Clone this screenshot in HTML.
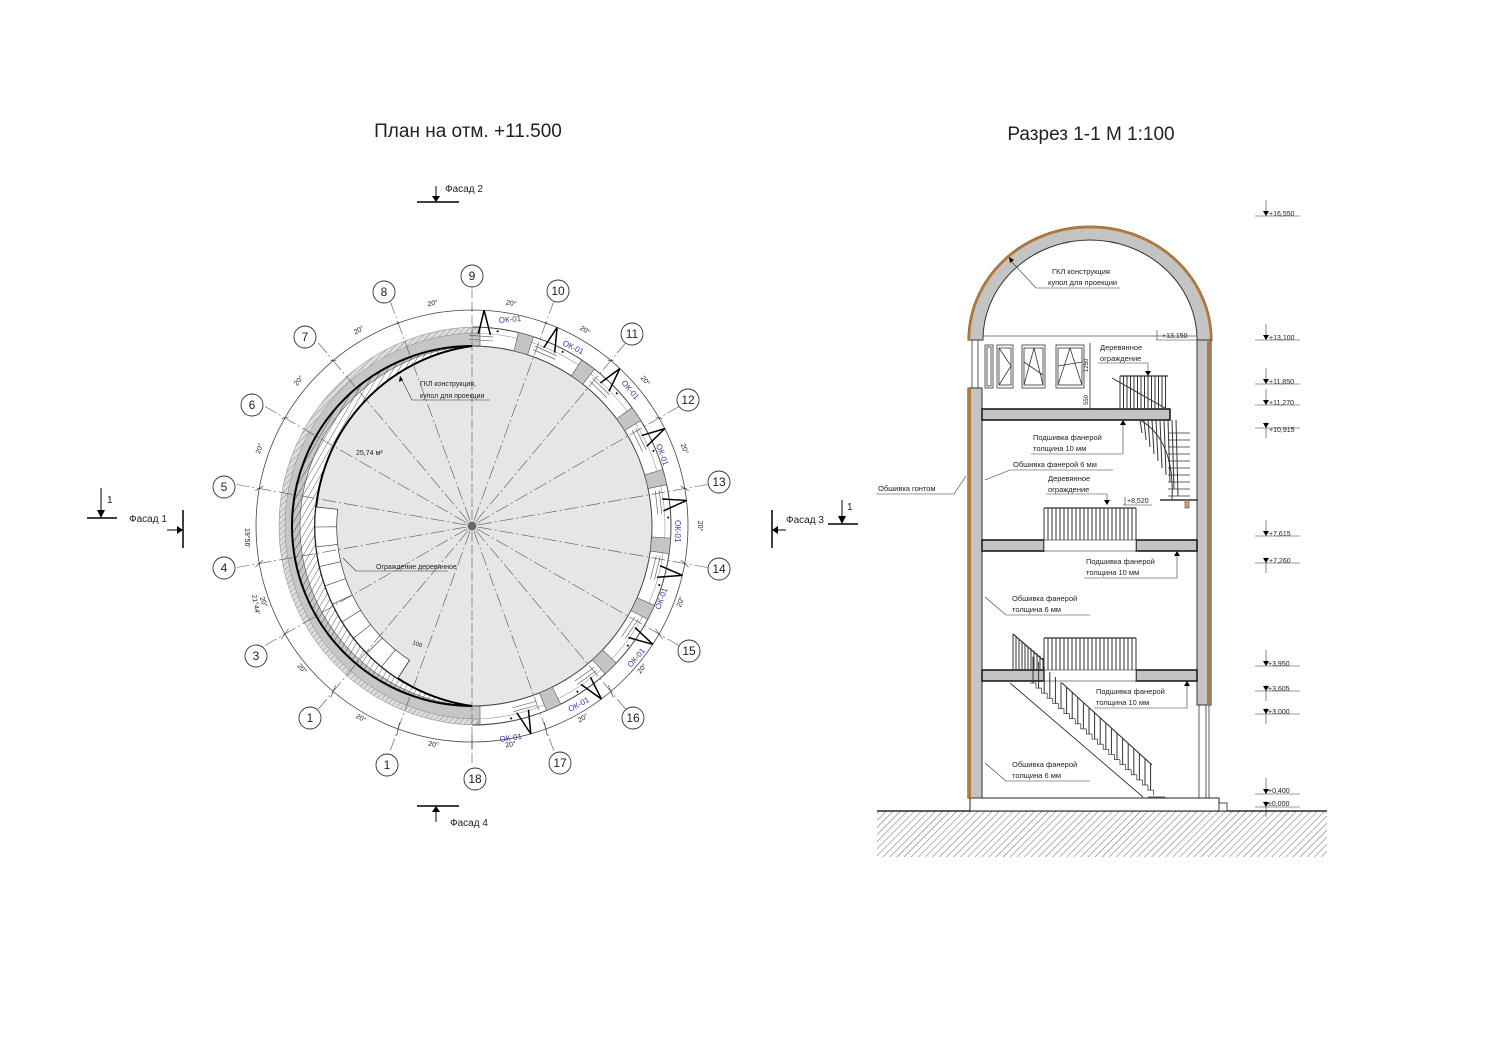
<!DOCTYPE html>
<html><head><meta charset="utf-8"><style>
html,body{margin:0;padding:0;background:#fff}
svg{display:block}
text{font-family:"Liberation Sans",Arial,sans-serif;fill:#222}
</style></head><body>
<svg id="s" width="1500" height="1061" viewBox="0 0 1500 1061" xmlns="http://www.w3.org/2000/svg">
<defs>
<pattern id="h1" width="5" height="5" patternUnits="userSpaceOnUse" patternTransform="rotate(30)"><line x1="0" y1="0" x2="0" y2="5" stroke="#333" stroke-width="0.8"/></pattern>
<pattern id="h2" width="4" height="4" patternUnits="userSpaceOnUse" patternTransform="rotate(45)"><rect width="4" height="4" fill="#ddd"/><line x1="0" y1="0" x2="0" y2="4" stroke="#777" stroke-width="0.8"/></pattern>
<pattern id="gr" width="5" height="5" patternUnits="userSpaceOnUse" patternTransform="rotate(45)"><line x1="0" y1="0" x2="0" y2="5" stroke="#444" stroke-width="0.8"/></pattern>
</defs>

<text x="468" y="137" font-size="19" text-anchor="middle">План на отм. +11.500</text>
<text x="1091" y="140" font-size="19" text-anchor="middle">Разрез 1-1 М 1:100</text>

<g id="plan">
<circle cx="472" cy="526" r="216" fill="none" stroke="#444" stroke-width="0.8"/>
<path d="M480,327 A199,199 0 0 0 480,725 L480,706 A180,180 0 0 1 480,346 Z" fill="#c6c6c6" stroke="#555" stroke-width="0.6"/>
<path d="M478,327 A199,199 0 0 0 478,725 L478,719 A193,193 0 0 1 478,333 Z" fill="url(#h2)" stroke="#888" stroke-width="0.5"/>
<path d="M472,346 A180,180 0 0 1 472,706 A181.7,181.7 0 0 1 472,346 Z" fill="#e6e6e6"/>
<path d="M472,346 A180,180 0 0 0 472,706 A181.7,181.7 0 0 1 472,346 Z" fill="url(#h1)" stroke="#000" stroke-width="2"/>
<g id="stair"></g>
<path d="M472,327 A199,199 0 0 1 472,725" fill="none" stroke="#444" stroke-width="1"/>
<path d="M472,346 A180,180 0 0 1 472,706" fill="none" stroke="#444" stroke-width="1"/>
<path d="M472,333 A193,193 0 0 1 472,719" fill="none" stroke="#999" stroke-width="0.6"/>
<g id="radial"></g>
<g id="piers"></g>
<g id="wins"></g>
<circle cx="472" cy="526" r="4" fill="#666"/>

<g fill="#fff" stroke="#333" stroke-width="0.9">
<circle cx="472" cy="276" r="11"/><circle cx="558" cy="291" r="11"/><circle cx="632" cy="334" r="11"/><circle cx="688" cy="400" r="11"/><circle cx="719" cy="482" r="11"/><circle cx="719" cy="569" r="11"/><circle cx="689" cy="651" r="11"/><circle cx="633" cy="718" r="11"/><circle cx="560" cy="763" r="11"/><circle cx="475" cy="779" r="11"/><circle cx="387" cy="765" r="11"/><circle cx="310" cy="718" r="11"/><circle cx="256" cy="656" r="11"/><circle cx="224" cy="568" r="11"/><circle cx="224" cy="487" r="11"/><circle cx="252" cy="405" r="11"/><circle cx="305" cy="337" r="11"/><circle cx="384" cy="292" r="11"/>
</g>
<g font-size="12" text-anchor="middle">
<text x="472" y="280">9</text><text x="558" y="295">10</text><text x="632" y="338">11</text><text x="688" y="404">12</text><text x="719" y="486">13</text><text x="719" y="573">14</text><text x="689" y="655">15</text><text x="633" y="722">16</text><text x="560" y="767">17</text><text x="475" y="783">18</text><text x="387" y="769">1</text><text x="310" y="722">1</text><text x="256" y="660">3</text><text x="224" y="572">4</text><text x="224" y="491">5</text><text x="252" y="409">6</text><text x="305" y="341">7</text><text x="384" y="296">8</text>
</g>
<g id="deg" font-size="7"></g>
<text font-size="7" transform="translate(245,528) rotate(90)">19°56'</text>
<text font-size="7" transform="translate(252,595) rotate(80)">21°44'</text>

<text x="356" y="455" font-size="7">25,74 м²</text>
<text x="420" y="386" font-size="7">ГКЛ конструкция,</text>
<text x="420" y="398" font-size="7">купол  для проекции</text>
<path d="M490,400 L412,400 L405,386 L400,376" fill="none" stroke="#333" stroke-width="0.6"/>
<path d="M400,376 l-1,6 l4,-2 z" fill="#000"/>
<text x="376" y="569" font-size="7">Ограждение деревянное</text>
<path d="M448,571 L356,571 L343,558" fill="none" stroke="#333" stroke-width="0.6"/>
<text font-size="6" transform="translate(412,644) rotate(20)">100</text>

<line x1="417" y1="202" x2="459" y2="202" stroke="#000" stroke-width="1.5"/>
<line x1="436" y1="186" x2="436" y2="200" stroke="#000"/><path d="M432,196 L440,196 L436,202 Z"/>
<text x="445" y="192" font-size="10">Фасад 2</text>
<line x1="417" y1="806" x2="459" y2="806" stroke="#000" stroke-width="1.5"/>
<line x1="436" y1="808" x2="436" y2="822" stroke="#000"/><path d="M432,812 L440,812 L436,806 Z"/>
<text x="450" y="826" font-size="10">Фасад 4</text>
<line x1="87" y1="518" x2="117" y2="518" stroke="#000" stroke-width="1.5"/>
<line x1="101" y1="488" x2="101" y2="512" stroke="#000"/><path d="M97,510 L105,510 L101,518 Z"/>
<text x="107" y="503" font-size="10">1</text>
<text x="129" y="522" font-size="10">Фасад 1</text>
<line x1="183" y1="510" x2="183" y2="548" stroke="#000" stroke-width="1.5"/>
<line x1="167" y1="530" x2="178" y2="530" stroke="#000"/><path d="M177,526 L177,534 L183,530 Z"/>
<line x1="772" y1="510" x2="772" y2="548" stroke="#000" stroke-width="1.5"/>
<line x1="774" y1="530" x2="786" y2="530" stroke="#000"/><path d="M778,526 L778,534 L772,530 Z"/>
<text x="786" y="523" font-size="10">Фасад 3</text>
<line x1="828" y1="524" x2="858" y2="524" stroke="#000" stroke-width="1.5"/>
<line x1="842" y1="500" x2="842" y2="518" stroke="#000"/><path d="M838,516 L846,516 L842,524 Z"/>
<text x="847" y="510" font-size="10">1</text>
</g>

<g id="sec">
<rect x="877" y="811" width="450" height="46" fill="url(#gr)"/>
<line x1="877" y1="811" x2="1327" y2="811" stroke="#000" stroke-width="1.2"/>
<rect x="970" y="798" width="249" height="13" fill="#fff" stroke="#222" stroke-width="1"/>
<rect x="1219" y="803" width="8" height="8" fill="#fff" stroke="#222" stroke-width="0.8"/>
<path d="M968,340 A122,114 0 0 1 1212,340 L1197,340 A107,100 0 0 0 983,340 Z" fill="#c4c4c4" stroke="#333" stroke-width="1"/>
<path d="M969,340 A121,113 0 0 1 1211,340" fill="none" stroke="#b57a3a" stroke-width="2.5"/>
<rect x="968" y="388" width="14" height="410" fill="#c4c4c4" stroke="#333" stroke-width="1"/>
<rect x="968" y="388" width="3" height="410" fill="#b57a3a"/>
<line x1="972" y1="340" x2="972" y2="388" stroke="#333" stroke-width="0.8"/>
<line x1="978" y1="340" x2="978" y2="388" stroke="#333" stroke-width="0.8"/>
<rect x="1197" y="340" width="14" height="365" fill="#c4c4c4" stroke="#333" stroke-width="1"/>
<rect x="1207" y="340" width="3" height="365" fill="#b57a3a"/>
<line x1="1199" y1="705" x2="1199" y2="798" stroke="#333" stroke-width="0.8"/>
<line x1="1206" y1="705" x2="1206" y2="798" stroke="#333" stroke-width="0.8"/>
<line x1="1209" y1="705" x2="1209" y2="798" stroke="#333" stroke-width="0.8"/>
<line x1="983" y1="336" x2="1197" y2="336" stroke="#555" stroke-width="0.8"/>
<rect x="982" y="409" width="188" height="11" fill="#c4c4c4" stroke="#111" stroke-width="1.5"/>
<rect x="982" y="540" width="62" height="11" fill="#c4c4c4" stroke="#111" stroke-width="1.5"/>
<rect x="1136" y="540" width="61" height="11" fill="#c4c4c4" stroke="#111" stroke-width="1.5"/>
<rect x="1044" y="540" width="92" height="11" fill="#fff" stroke="#333" stroke-width="0.6"/>
<rect x="982" y="670" width="62" height="11" fill="#c4c4c4" stroke="#111" stroke-width="1.5"/>
<rect x="1136" y="670" width="61" height="11" fill="#c4c4c4" stroke="#111" stroke-width="1.5"/>
<rect x="1044" y="670" width="92" height="11" fill="#fff" stroke="#333" stroke-width="0.6"/>
<g fill="none" stroke="#333" stroke-width="0.8">
<rect x="985" y="345" width="8" height="43"/><rect x="987" y="347" width="4" height="39"/>
<rect x="997" y="345" width="16" height="43"/><rect x="999" y="348" width="12" height="37"/><path d="M999,348 L1011,366 L999,385"/>
<rect x="1022" y="345" width="23" height="43"/><rect x="1024" y="348" width="19" height="37"/><path d="M1024,385 L1034,348 L1043,385 M1024,362 L1043,375"/>
<rect x="1056" y="345" width="28" height="43"/><rect x="1058" y="348" width="24" height="37"/><path d="M1058,385 L1070,348 L1082,385 M1058,366 L1082,362"/>
<line x1="1090" y1="343" x2="1090" y2="410"/>
</g>
<text font-size="6" transform="translate(1088,372) rotate(-90)">1250</text>
<text font-size="6" transform="translate(1088,405) rotate(-90)">550</text>
<g id="rails"></g>

<g font-size="7.5">
<text x="1052" y="274">ГКЛ конструкция</text>
<text x="1048" y="285">купол для проекции</text>
<path d="M1120,288 L1036,288 L1010,260" fill="none" stroke="#333" stroke-width="0.6"/><path d="M1009,257 l1,6 l4,-3z"/>
<text x="1162" y="338" font-size="7">+13,150</text>
<path d="M1156,340 L1197,340 M1157,330 L1157,340" stroke="#333" stroke-width="0.6"/>
<text x="1100" y="350">Деревянное</text>
<text x="1100" y="361">ограждение</text>
<path d="M1098,363 L1148,363 L1148,375" fill="none" stroke="#333" stroke-width="0.6"/><path d="M1145,371 L1151,371 L1148,376z"/>
<text x="1033" y="440">Подшивка фанерой</text>
<text x="1033" y="451">толщина 10 мм</text>
<path d="M1031,454 L1123,454 L1123,421" fill="none" stroke="#333" stroke-width="0.6"/><path d="M1120,425 L1126,425 L1123,420z"/>
<text x="1013" y="467">Обшивка фанерой 6 мм</text>
<path d="M1113,470 L1010,470 L985,480" fill="none" stroke="#333" stroke-width="0.6"/>
<text x="878" y="491">Обшивка гонтом</text>
<path d="M876,494 L954,494 L966,476" fill="none" stroke="#333" stroke-width="0.6"/>
<text x="1048" y="481">Деревянное</text>
<text x="1048" y="492">ограждение</text>
<path d="M1046,494 L1107,494 L1107,503" fill="none" stroke="#333" stroke-width="0.6"/><path d="M1104,500 L1110,500 L1107,505z"/>
<text x="1127" y="503" font-size="7">+8,520</text>
<path d="M1123,505 L1152,505 M1125,497 L1125,505" stroke="#333" stroke-width="0.6"/>
<text x="1086" y="564">Подшивка фанерой</text>
<text x="1086" y="575">толщина 10 мм</text>
<path d="M1084,578 L1177,578 L1177,552" fill="none" stroke="#333" stroke-width="0.6"/><path d="M1174,556 L1180,556 L1177,551z"/>
<text x="1012" y="601">Обшивка фанерой</text>
<text x="1012" y="612">толщина 6 мм</text>
<path d="M1090,615 L1006,615 L985,597" fill="none" stroke="#333" stroke-width="0.6"/>
<text x="1096" y="694">Подшивка фанерой</text>
<text x="1096" y="705">толщина 10 мм</text>
<path d="M1094,708 L1187,708 L1187,682" fill="none" stroke="#333" stroke-width="0.6"/><path d="M1184,686 L1190,686 L1187,681z"/>
<text x="1012" y="767">Обшивка фанерой</text>
<text x="1012" y="778">толщина 6 мм</text>
<path d="M1090,781 L1006,781 L985,763" fill="none" stroke="#333" stroke-width="0.6"/>
</g>
<g font-size="7">
<text x="1269" y="216">+16,550</text><text x="1269" y="340">+13,100</text><text x="1269" y="384">+11,850</text><text x="1269" y="405">+11,270</text><text x="1269" y="432">+10,915</text><text x="1269" y="536">+7,615</text><text x="1269" y="563">+7,260</text><text x="1268" y="666">+3,950</text><text x="1268" y="691">+3,605</text><text x="1268" y="714">+3,000</text><text x="1268" y="793">+0,400</text><text x="1268" y="806">±0,000</text>
</g>
<g id="elev"></g>
</g>

<script>
var NS="http://www.w3.org/2000/svg";
function el(p,t,a){var e=document.createElementNS(NS,t);for(var k in a)e.setAttribute(k,a[k]);document.getElementById(p).appendChild(e);return e;}
var cx=472,cy=526,R=Math.PI/180;
var ang=[90,70,50,30,10,-10,-30,-50,-70,-90,-110,-130,-150,-170,170,150,130,110];
ang.forEach(function(a){var c=Math.cos(a*R),s=-Math.sin(a*R);
 el("radial","line",{x1:cx+c*6,y1:cy+s*6,x2:cx+c*239,y2:cy+s*239,stroke:"#555","stroke-width":0.6,"stroke-dasharray":(a==90||a==-90)?"10,3":"14,3,2,3"});
 el("radial","line",{x1:cx+c*212,y1:cy+s*212-3,x2:cx+c*220,y2:cy+s*220+3,stroke:"#333","stroke-width":0.6});
});
for(var a=0;a<360;a+=15){el("radial","line",{x1:cx,y1:cy,x2:cx+Math.cos(a*R)*5,y2:cy+Math.sin(a*R)*5,stroke:"#444","stroke-width":0.5});}
[100,80,60,40,20,0,-20,-40,-60,-80,-100,-120,-140,-160,160,140,120].forEach(function(a){
 var r=a==0?226:224,x=cx+Math.cos(a*R)*r,y=cy-Math.sin(a*R)*r;var rot=90-a;if(rot>90)rot-=180;
 var t=el("deg","text",{transform:"translate("+x+","+y+") rotate("+rot+")","text-anchor":"middle"});t.textContent="20°";});
function sector(g,a1,a2,r1,r2,fill){var p=[[r2,a1],[r2,a2],[r1,a2],[r1,a1]].map(function(q){return (cx+Math.cos(q[1]*R)*q[0]).toFixed(1)+","+(cy-Math.sin(q[1]*R)*q[0]).toFixed(1);});
 el(g,"path",{d:"M"+p[0]+" A"+r2+","+r2+" 0 0 1 "+p[1]+" L"+p[2]+" A"+r1+","+r1+" 0 0 0 "+p[3]+"Z",fill:fill,stroke:"#555","stroke-width":0.6});}
[73,53,33,13,-7,-27,-47,-67].forEach(function(a){sector("piers",a+3.5,a-1,180,199,"#c4c4c4");});
[86,66,46,26,6,-14,-34,-54,-75].forEach(function(a,i){
 var g=el("wins","g",{transform:"translate("+cx+","+cy+") rotate("+(-a)+")"});
 function add(t,at){var e=document.createElementNS(NS,t);for(var k in at)e.setAttribute(k,at[k]);g.appendChild(e);return e;}
 add("line",{x1:186,y1:-16,x2:186,y2:8,stroke:"#555","stroke-width":0.6});
 add("line",{x1:190,y1:-16,x2:190,y2:8,stroke:"#555","stroke-width":0.6});
 add("path",{d:"M192,-7 L216,-3 L192,5",fill:"none",stroke:"#000","stroke-width":1.5});
 add("circle",{cx:196,cy:12,r:1,fill:"#000"});
});
function ln(x1,y1,x2,y2,w,c){el("rails","line",{x1:x1,y1:y1,x2:x2,y2:y2,stroke:c||"#333","stroke-width":w||0.7});}
function rail(x1,x2,yt,yb,st){ln(x1,yt,x2,yt,1.2);for(var x=x1;x<=x2+0.1;x+=st)ln(x,yt,x,yb,1);}
rail(1120,1168,376,409,3.5);ln(1112,378,1165,408,1);
rail(1044,1136,508,540,4);
rail(1044,1136,638,670,4);
for(var x=1013;x<=1043;x+=3)ln(x,634+(x-1013)*0.8,x,670,1);ln(1013,634,1043,660,1.2);
for(var i=0;i<10;i++){var y=425+i*7,x=1140+i*4;ln(x,420,x+2,y+8,1);ln(1168,y+8,1190,y+8,0.7);}
el("rails","path",{d:"M1140,420 Q1175,440 1172,500",fill:"none",stroke:"#333","stroke-width":1});
ln(1160,500,1198,500,1.5);el("rails","rect",{x:1185,y:500,width:4,height:8,fill:"#c9a27a",stroke:"#333","stroke-width":0.5});
ln(1010,683,1143,797,0.9);ln(1062,683,1152,765,1.1);
for(var i=0;i<22;i++){var x=1030+i*5.6,y=683+i*5.1;ln(x,y,x+6,y,0.7);ln(x+6,y,x+6,y+5.1,0.7);ln(x+3,683+(x+3-1062)*0.911,x+3,y,1);}
ln(1148,797,1165,797,0.7);
function ln2(a,b,c,d){el("elev","line",{x1:a,y1:b,x2:c,y2:d,stroke:"#333","stroke-width":0.6});}
[[213,0],[337,0],[381,0],[402,0],[425,1],[533,0],[560,1],[663,0],[688,1],[711,1],[791,0],[804,1]].forEach(function(m){
 var y=m[0]+3;ln2(1255,y,1300,y);if(m[1]){ln2(1266,y-6,1266,y+10);}else{ln2(1266,y-16,1266,y);}
 el("elev","path",{d:"M1263,"+(y-5)+" L1269,"+(y-5)+" L1266,"+y+"Z",fill:"#000"});});
(function(){var sx=496.7,sy=526,r1=160,r2=181.7;
 var p=function(r,a){return (sx+Math.cos(a*R)*r).toFixed(1)+","+(sy+Math.sin(a*R)*r).toFixed(1);};
 el("stair","path",{d:"M"+p(r2,186)+" A"+r2+","+r2+" 0 0 0 "+p(r2,123)+" L"+p(r1,123)+" A"+r1+","+r1+" 0 0 1 "+p(r1,186)+"Z",fill:"#fff",stroke:"#333","stroke-width":0.7});
 for(var a=123;a<=186;a+=6.3){var A=p(r1,a).split(","),B=p(r2,a).split(",");el("stair","line",{x1:A[0],y1:A[1],x2:B[0],y2:B[1],stroke:"#333","stroke-width":0.6});}
})();
</script>
<g font-size="8">
<text transform="translate(499,323) rotate(-5)" style="fill:#3a3a9a">ОК-01</text>
<text transform="translate(562,345) rotate(25)" style="fill:#3a3a9a">ОК-01</text>
<text transform="translate(621,383) rotate(50)" style="fill:#3a3a9a">ОК-01</text>
<text transform="translate(656,445) rotate(70)" style="fill:#3a3a9a">ОК-01</text>
<text transform="translate(675,520) rotate(90)" style="fill:#3a3a9a">ОК-01</text>
<text transform="translate(660,610) rotate(-70)" style="fill:#3a3a9a">ОК-01</text>
<text transform="translate(631,668) rotate(-50)" style="fill:#3a3a9a">ОК-01</text>
<text transform="translate(570,712) rotate(-28)" style="fill:#3a3a9a">ОК-01</text>
<text transform="translate(500,742) rotate(-8)" style="fill:#3a3a9a">ОК-01</text>
</g>
</svg>
</body></html>
